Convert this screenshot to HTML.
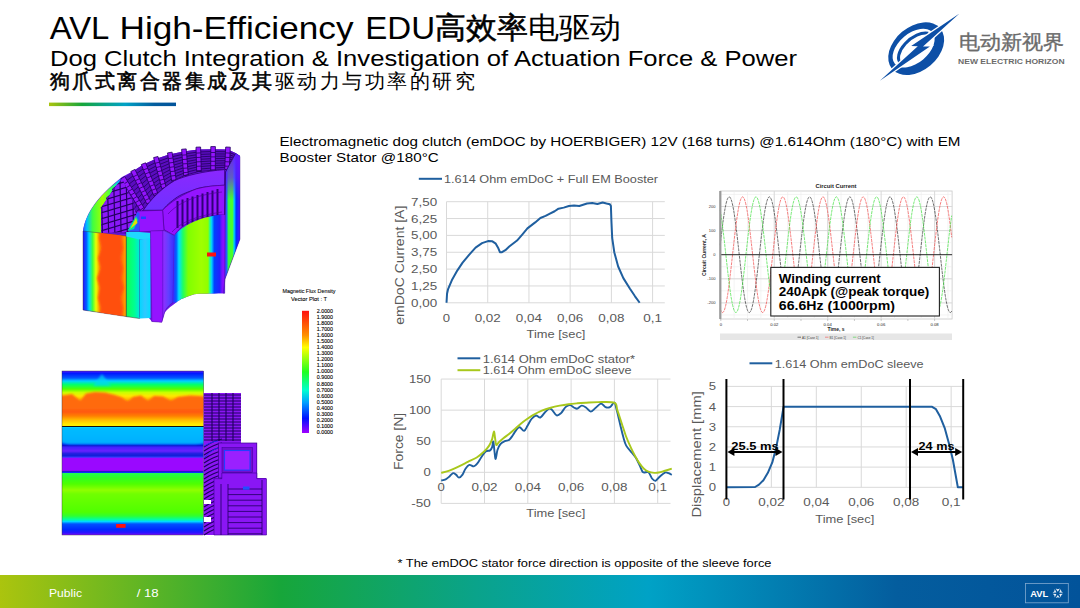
<!DOCTYPE html>
<html><head><meta charset="utf-8"><style>
html,body{margin:0;padding:0;background:#fff;}
body{width:1080px;height:608px;overflow:hidden;}
svg{display:block;font-family:"Liberation Sans", sans-serif;}
</style></head><body>
<svg width="1080" height="608" viewBox="0 0 1080 608">
<text x="49.7" y="38.9" font-size="31.6" fill="#000" text-anchor="start" font-weight="normal" textLength="59.6" lengthAdjust="spacingAndGlyphs" >AVL</text>
<text x="119.5" y="38.9" font-size="31.6" fill="#000" text-anchor="start" font-weight="normal" textLength="234" lengthAdjust="spacingAndGlyphs" >High-Efficiency</text>
<text x="365.3" y="38.9" font-size="31.6" fill="#000" text-anchor="start" font-weight="normal" textLength="69.9" lengthAdjust="spacingAndGlyphs" >EDU</text>
<text x="435" y="37.8" font-size="30" fill="#000" textLength="186" lengthAdjust="spacingAndGlyphs"><tspan stroke="#000" stroke-width="0.55">高效率</tspan>电驱动</text>
<text x="50" y="65.6" font-size="22.5" fill="#000" text-anchor="start" font-weight="normal" textLength="747" lengthAdjust="spacingAndGlyphs" >Dog Clutch Integration &amp; Investigation of Actuation Force &amp; Power</text>
<text x="49.5" y="88.3" font-size="20.2" fill="#000" textLength="425" lengthAdjust="spacing"><tspan stroke="#000" stroke-width="0.55">狗爪式离合器集成及其</tspan>驱动力与功率的研究</text>
<defs><linearGradient id="ul" x1="0" x2="1"><stop offset="0" stop-color="#a5c416"/><stop offset="0.5" stop-color="#0aa37f"/><stop offset="1" stop-color="#0a5aa8"/></linearGradient>
<linearGradient id="ft" x1="0" x2="1"><stop offset="0" stop-color="#abc40e"/><stop offset="0.26" stop-color="#17a63a"/><stop offset="0.44" stop-color="#0aa38a"/><stop offset="0.6" stop-color="#00a2c6"/><stop offset="0.83" stop-color="#045d9e"/><stop offset="1" stop-color="#02539a"/></linearGradient></defs>
<rect x="49" y="102.6" width="127" height="3.5" fill="url(#ft)"/>
<rect x="0" y="575" width="1080" height="33" fill="url(#ft)"/>
<text x="49" y="597.2" font-size="11.5" fill="#fff" text-anchor="start" font-weight="normal" textLength="33" lengthAdjust="spacingAndGlyphs" >Public</text>
<text x="136.7" y="597.2" font-size="11.5" fill="#fff" text-anchor="start" font-weight="normal" textLength="22" lengthAdjust="spacingAndGlyphs" >/ 18</text>
<rect x="1025.5" y="583.5" width="42.8" height="19.3" fill="none" stroke="#7fa9d0" stroke-width="0.8"/>
<text x="1030.2" y="597.2" font-size="8.6" fill="#fff" text-anchor="start" font-weight="bold" textLength="18" lengthAdjust="spacingAndGlyphs" >AVL</text>
<path d="M1059.19,592.50L1060.85,589.09L1061.26,591.30L1062.97,592.76Z M1057.80,591.70L1055.68,588.55L1057.80,589.30L1059.92,588.55Z M1056.41,592.50L1052.63,592.76L1054.34,591.30L1054.75,589.09Z M1056.41,594.10L1054.75,597.51L1054.34,595.30L1052.63,593.84Z M1057.80,594.90L1059.92,598.05L1057.80,597.30L1055.68,598.05Z M1059.19,594.10L1062.97,593.84L1061.26,595.30L1060.85,597.51Z" fill="#e8eef6"/>
<path d="M446.5,302.80H664.8 M446.5,285.95H664.8 M446.5,269.10H664.8 M446.5,252.25H664.8 M446.5,235.40H664.8 M446.5,218.55H664.8 M446.5,201.70H664.8 M446.50,201.70V302.8 M487.72,201.70V302.8 M528.94,201.70V302.8 M570.16,201.70V302.8 M611.38,201.70V302.8 M652.60,201.70V302.8" stroke="#d9d9d9" stroke-width="1" fill="none"/>
<text x="411.07" y="306.80" font-size="11.5" fill="#595959" font-weight="normal" textLength="26.13" lengthAdjust="spacingAndGlyphs">0,00</text>
<text x="411.07" y="289.95" font-size="11.5" fill="#595959" font-weight="normal" textLength="26.13" lengthAdjust="spacingAndGlyphs">1,25</text>
<text x="411.07" y="273.10" font-size="11.5" fill="#595959" font-weight="normal" textLength="26.13" lengthAdjust="spacingAndGlyphs">2,50</text>
<text x="411.07" y="256.25" font-size="11.5" fill="#595959" font-weight="normal" textLength="26.13" lengthAdjust="spacingAndGlyphs">3,75</text>
<text x="411.07" y="239.40" font-size="11.5" fill="#595959" font-weight="normal" textLength="26.13" lengthAdjust="spacingAndGlyphs">5,00</text>
<text x="411.07" y="222.55" font-size="11.5" fill="#595959" font-weight="normal" textLength="26.13" lengthAdjust="spacingAndGlyphs">6,25</text>
<text x="411.07" y="205.70" font-size="11.5" fill="#595959" font-weight="normal" textLength="26.13" lengthAdjust="spacingAndGlyphs">7,50</text>
<text x="442.84" y="322.00" font-size="11.5" fill="#595959" font-weight="normal" textLength="7.31" lengthAdjust="spacingAndGlyphs">0</text>
<text x="474.66" y="322.00" font-size="11.5" fill="#595959" font-weight="normal" textLength="26.13" lengthAdjust="spacingAndGlyphs">0,02</text>
<text x="515.88" y="322.00" font-size="11.5" fill="#595959" font-weight="normal" textLength="26.13" lengthAdjust="spacingAndGlyphs">0,04</text>
<text x="557.10" y="322.00" font-size="11.5" fill="#595959" font-weight="normal" textLength="26.13" lengthAdjust="spacingAndGlyphs">0,06</text>
<text x="598.32" y="322.00" font-size="11.5" fill="#595959" font-weight="normal" textLength="26.13" lengthAdjust="spacingAndGlyphs">0,08</text>
<text x="643.19" y="322.00" font-size="11.5" fill="#595959" font-weight="normal" textLength="18.81" lengthAdjust="spacingAndGlyphs">0,1</text>
<text x="526.54" y="338.30" font-size="11" fill="#595959" font-weight="normal" textLength="58.93" lengthAdjust="spacingAndGlyphs">Time [sec]</text>
<text x="344.50" y="265.20" font-size="12" fill="#595959" font-weight="normal" textLength="119.00" lengthAdjust="spacingAndGlyphs" transform="rotate(-90 404.0 265.2)">emDoC Current [A]</text>
<path d="M418.8,178.8H442" stroke="#1f5f9f" stroke-width="2"/>
<text x="444.00" y="183.00" font-size="11.3" fill="#595959" font-weight="normal" textLength="214.08" lengthAdjust="spacingAndGlyphs">1.614 Ohm emDoC + Full EM Booster</text>
<polyline points="446.52,302.78 447.04,293.71 448.08,289.04 452.22,279.45 457.41,270.37 462.60,262.60 469.08,254.82 475.56,247.56 482.04,243.15 488.00,241.08 492.41,241.34 495.78,243.67 498.37,248.34 499.93,252.22 502.00,252.22 505.37,250.15 509.26,246.52 517.04,240.56 522.23,234.59 527.41,228.37 535.19,222.41 540.38,218.00 545.56,215.93 549.45,213.85 554.64,211.26 558.52,208.67 563.71,207.63 568.90,206.07 574.08,205.56 579.27,206.07 583.16,204.78 587.04,203.48 592.23,202.96 597.42,204.00 602.60,202.44 606.49,203.48 609.86,204.26 610.90,206.07 611.42,221.11 612.19,237.96 614.27,252.22 618.16,266.48 623.34,278.15 629.82,288.52 635.01,296.30 639.68,302.78" stroke="#1f5f9f" stroke-width="2" fill="none" stroke-linejoin="round"/>
<path d="M441.2,503.38H670.5 M441.2,472.30H670.5 M441.2,441.22H670.5 M441.2,410.14H670.5 M441.2,379.06H670.5 M441.20,379.06V503.38 M484.50,379.06V503.38 M527.80,379.06V503.38 M571.10,379.06V503.38 M614.40,379.06V503.38 M657.70,379.06V503.38" stroke="#d9d9d9" stroke-width="1" fill="none"/>
<text x="411.32" y="507.38" font-size="11.5" fill="#595959" font-weight="normal" textLength="19.58" lengthAdjust="spacingAndGlyphs">-50</text>
<text x="423.59" y="476.30" font-size="11.5" fill="#595959" font-weight="normal" textLength="7.31" lengthAdjust="spacingAndGlyphs">0</text>
<text x="416.27" y="445.22" font-size="11.5" fill="#595959" font-weight="normal" textLength="14.63" lengthAdjust="spacingAndGlyphs">50</text>
<text x="408.96" y="414.14" font-size="11.5" fill="#595959" font-weight="normal" textLength="21.94" lengthAdjust="spacingAndGlyphs">100</text>
<text x="408.96" y="383.06" font-size="11.5" fill="#595959" font-weight="normal" textLength="21.94" lengthAdjust="spacingAndGlyphs">150</text>
<text x="437.54" y="491.00" font-size="11.5" fill="#595959" font-weight="normal" textLength="7.31" lengthAdjust="spacingAndGlyphs">0</text>
<text x="471.44" y="491.00" font-size="11.5" fill="#595959" font-weight="normal" textLength="26.13" lengthAdjust="spacingAndGlyphs">0,02</text>
<text x="514.74" y="491.00" font-size="11.5" fill="#595959" font-weight="normal" textLength="26.13" lengthAdjust="spacingAndGlyphs">0,04</text>
<text x="558.04" y="491.00" font-size="11.5" fill="#595959" font-weight="normal" textLength="26.13" lengthAdjust="spacingAndGlyphs">0,06</text>
<text x="601.34" y="491.00" font-size="11.5" fill="#595959" font-weight="normal" textLength="26.13" lengthAdjust="spacingAndGlyphs">0,08</text>
<text x="648.29" y="491.00" font-size="11.5" fill="#595959" font-weight="normal" textLength="18.81" lengthAdjust="spacingAndGlyphs">0,1</text>
<text x="526.34" y="516.80" font-size="11" fill="#595959" font-weight="normal" textLength="58.93" lengthAdjust="spacingAndGlyphs">Time [sec]</text>
<text x="374.70" y="441.40" font-size="12" fill="#595959" font-weight="normal" textLength="57.00" lengthAdjust="spacingAndGlyphs" transform="rotate(-90 403.2 441.4)">Force [N]</text>
<path d="M457.5,358.3H480.3" stroke="#1f5f9f" stroke-width="2"/>
<path d="M457.5,370.2H480.3" stroke="#a8c81c" stroke-width="2"/>
<text x="482.70" y="362.50" font-size="11.3" fill="#595959" font-weight="normal" textLength="152.45" lengthAdjust="spacingAndGlyphs">1.614 Ohm emDoC stator*</text>
<text x="482.70" y="374.40" font-size="11.3" fill="#595959" font-weight="normal" textLength="148.90" lengthAdjust="spacingAndGlyphs">1.614 Ohm emDoC sleeve</text>
<path d="M441.23,480.54C441.97,480.35 444.29,480.05 445.67,479.36C447.05,478.67 448.28,477.44 449.52,476.40C450.75,475.36 451.98,473.44 453.07,473.14C454.15,472.85 455.04,473.88 456.03,474.62C457.01,475.36 457.90,477.58 458.99,477.58C460.07,477.58 461.45,476.10 462.54,474.62C463.62,473.14 464.36,470.33 465.50,468.71C466.63,467.08 467.96,465.25 469.34,464.86C470.73,464.46 472.45,466.58 473.78,466.34C475.12,466.09 476.10,464.86 477.34,463.38C478.57,461.90 479.80,459.43 481.18,457.46C482.56,455.49 484.14,452.72 485.62,451.54C487.10,450.36 488.98,451.10 490.06,450.36C491.15,449.62 491.59,448.58 492.13,447.10C492.67,445.62 492.92,440.74 493.32,441.48C493.71,442.22 494.11,448.63 494.50,451.54C494.89,454.45 495.19,459.19 495.68,458.94C496.18,458.69 496.67,452.53 497.46,450.06C498.25,447.59 499.19,445.62 500.42,444.14C501.65,442.66 503.38,441.92 504.86,441.18C506.34,440.44 507.97,440.69 509.30,439.70C510.63,438.72 511.62,436.99 512.85,435.26C514.08,433.54 515.56,430.68 516.70,429.34C517.83,428.01 518.42,427.03 519.66,427.27C520.89,427.52 522.76,431.12 524.09,430.82C525.43,430.53 526.41,427.47 527.65,425.50C528.88,423.52 530.11,420.66 531.49,418.99C532.87,417.31 534.45,415.68 535.93,415.44C537.41,415.19 538.89,418.00 540.37,417.51C541.85,417.01 543.33,413.96 544.81,412.48C546.29,411.00 548.02,409.02 549.25,408.63C550.48,408.23 550.98,408.97 552.21,410.11C553.44,411.24 555.17,414.94 556.65,415.44C558.13,415.93 559.61,414.45 561.09,413.07C562.57,411.69 564.05,408.48 565.53,407.15C567.01,405.82 568.49,404.98 569.97,405.08C571.45,405.18 573.17,407.15 574.41,407.74C575.64,408.33 576.13,408.97 577.36,408.63C578.60,408.28 580.32,405.82 581.80,405.67C583.28,405.52 584.76,406.75 586.24,407.74C587.72,408.73 589.10,411.59 590.68,411.59C592.26,411.59 593.99,409.07 595.71,407.74C597.44,406.41 599.41,403.70 601.04,403.60C602.67,403.50 604.00,406.56 605.48,407.15C606.96,407.74 608.44,407.89 609.92,407.15C611.40,406.41 613.22,402.22 614.36,402.71C615.49,403.20 615.74,406.41 616.73,410.11C617.71,413.81 619.19,420.47 620.28,424.91C621.36,429.34 622.25,433.29 623.24,436.74C624.22,440.20 624.72,442.91 626.20,445.62C627.68,448.33 630.39,450.80 632.11,453.02C633.84,455.24 635.22,456.72 636.55,458.94C637.89,461.16 639.02,464.12 640.11,466.34C641.19,468.56 641.68,471.27 643.06,472.26C644.45,473.24 646.86,471.17 648.39,472.26C649.92,473.34 651.06,477.34 652.24,478.77C653.42,480.20 654.26,481.18 655.49,480.84C656.73,480.49 658.06,478.08 659.64,476.70C661.22,475.31 663.48,473.14 664.96,472.55C666.44,471.96 667.38,472.75 668.52,473.14C669.65,473.54 671.23,474.62 671.77,474.92" stroke="#1f5f9f" stroke-width="1.9" fill="none" stroke-linejoin="round"/>
<path d="M441.23,472.85C442.46,472.50 445.67,471.86 448.63,470.78C451.59,469.69 455.78,467.82 458.99,466.34C462.19,464.86 464.91,463.38 467.86,461.90C470.82,460.42 474.03,459.19 476.74,457.46C479.46,455.73 482.07,453.51 484.14,451.54C486.21,449.57 487.84,447.69 489.17,445.62C490.50,443.55 491.34,441.48 492.13,439.11C492.92,436.74 493.41,431.56 493.91,431.42C494.40,431.27 494.70,435.95 495.09,438.22C495.49,440.49 495.63,444.39 496.28,445.03C496.92,445.67 497.76,443.20 498.94,442.07C500.12,440.94 501.65,439.60 503.38,438.22C505.10,436.84 507.32,435.36 509.30,433.78C511.27,432.21 513.24,430.48 515.22,428.75C517.19,427.03 519.16,425.05 521.13,423.43C523.11,421.80 525.08,420.37 527.05,418.99C529.03,417.61 530.51,416.52 532.97,415.14C535.44,413.76 538.89,411.93 541.85,410.70C544.81,409.47 547.77,408.58 550.73,407.74C553.69,406.90 556.65,406.26 559.61,405.67C562.57,405.08 565.53,404.58 568.49,404.19C571.45,403.79 574.41,403.55 577.36,403.30C580.32,403.05 582.79,402.91 586.24,402.71C589.70,402.51 593.39,402.12 598.08,402.12C602.77,402.12 611.15,401.38 614.36,402.71C617.56,404.04 616.08,406.66 617.32,410.11C618.55,413.56 620.28,418.99 621.76,423.43C623.24,427.86 624.72,432.80 626.20,436.74C627.68,440.69 629.16,443.90 630.63,447.10C632.11,450.31 633.59,453.27 635.07,455.98C636.55,458.69 638.03,461.26 639.51,463.38C640.99,465.50 642.47,467.32 643.95,468.71C645.43,470.09 646.67,470.97 648.39,471.66C650.12,472.36 652.58,472.70 654.31,472.85C656.04,473.00 656.97,472.90 658.75,472.55C660.53,472.21 662.79,471.42 664.96,470.78C667.13,470.14 670.64,469.05 671.77,468.71" stroke="#a8c81c" stroke-width="1.9" fill="none" stroke-linejoin="round"/>
<path d="M726.4,487.30H963.2 M726.4,467.12H963.2 M726.4,446.94H963.2 M726.4,426.76H963.2 M726.4,406.58H963.2 M726.4,386.40H963.2 M726.40,386.40V487.30 M771.35,386.40V487.30 M816.30,386.40V487.30 M861.25,386.40V487.30 M906.20,386.40V487.30 M951.15,386.40V487.30" stroke="#d9d9d9" stroke-width="1" fill="none"/>
<text x="708.69" y="491.30" font-size="11.5" fill="#595959" font-weight="normal" textLength="7.31" lengthAdjust="spacingAndGlyphs">0</text>
<text x="708.69" y="471.12" font-size="11.5" fill="#595959" font-weight="normal" textLength="7.31" lengthAdjust="spacingAndGlyphs">1</text>
<text x="708.69" y="450.94" font-size="11.5" fill="#595959" font-weight="normal" textLength="7.31" lengthAdjust="spacingAndGlyphs">2</text>
<text x="708.69" y="430.76" font-size="11.5" fill="#595959" font-weight="normal" textLength="7.31" lengthAdjust="spacingAndGlyphs">3</text>
<text x="708.69" y="410.58" font-size="11.5" fill="#595959" font-weight="normal" textLength="7.31" lengthAdjust="spacingAndGlyphs">4</text>
<text x="708.69" y="390.40" font-size="11.5" fill="#595959" font-weight="normal" textLength="7.31" lengthAdjust="spacingAndGlyphs">5</text>
<text x="722.74" y="506.40" font-size="11.5" fill="#595959" font-weight="normal" textLength="7.31" lengthAdjust="spacingAndGlyphs">0</text>
<text x="758.29" y="506.40" font-size="11.5" fill="#595959" font-weight="normal" textLength="26.13" lengthAdjust="spacingAndGlyphs">0,02</text>
<text x="803.24" y="506.40" font-size="11.5" fill="#595959" font-weight="normal" textLength="26.13" lengthAdjust="spacingAndGlyphs">0,04</text>
<text x="848.19" y="506.40" font-size="11.5" fill="#595959" font-weight="normal" textLength="26.13" lengthAdjust="spacingAndGlyphs">0,06</text>
<text x="893.14" y="506.40" font-size="11.5" fill="#595959" font-weight="normal" textLength="26.13" lengthAdjust="spacingAndGlyphs">0,08</text>
<text x="941.74" y="506.40" font-size="11.5" fill="#595959" font-weight="normal" textLength="18.81" lengthAdjust="spacingAndGlyphs">0,1</text>
<text x="815.34" y="523.30" font-size="11" fill="#595959" font-weight="normal" textLength="58.93" lengthAdjust="spacingAndGlyphs">Time [sec]</text>
<text x="638.25" y="454.30" font-size="12" fill="#595959" font-weight="normal" textLength="126.50" lengthAdjust="spacingAndGlyphs" transform="rotate(-90 701.5 454.3)">Displacement [mm]</text>
<path d="M749.5,363.3H772.3" stroke="#1f5f9f" stroke-width="2"/>
<text x="774.70" y="367.50" font-size="11.3" fill="#595959" font-weight="normal" textLength="148.90" lengthAdjust="spacingAndGlyphs">1.614 Ohm emDoC sleeve</text>
<polyline points="726.43,487.32 755.14,487.02 758.99,484.66 763.43,480.22 767.86,472.82 772.30,462.46 776.15,447.66 779.70,429.91 783.55,406.82 932.11,406.82 935.96,409.19 940.11,416.59 944.84,428.43 949.28,444.70 952.83,459.50 955.49,474.30 957.86,487.32 963.19,487.32" stroke="#1f5f9f" stroke-width="2" fill="none" stroke-linejoin="round"/>
<path d="M726.4,379V499.5" stroke="#000" stroke-width="2"/>
<path d="M783.5,379V499.5" stroke="#000" stroke-width="2"/>
<path d="M910.0,379V499.5" stroke="#000" stroke-width="2"/>
<path d="M963.2,379V499.5" stroke="#000" stroke-width="2"/>
<path d="M732.4,452.1H777.5" stroke="#000" stroke-width="2"/>
<path d="M727.4,452.1L734.4,448.1V456.1Z M782.5,452.1L775.5,448.1V456.1Z" fill="#000"/>
<path d="M916.0,452.1H957.2" stroke="#000" stroke-width="2"/>
<path d="M911.0,452.1L918.0,448.1V456.1Z M962.2,452.1L955.2,448.1V456.1Z" fill="#000"/>
<text x="731.32" y="449.50" font-size="11.5" fill="#000" font-weight="bold" textLength="47.36" lengthAdjust="spacingAndGlyphs">25.5 ms</text>
<text x="918.57" y="449.50" font-size="11.5" fill="#000" font-weight="bold" textLength="35.86" lengthAdjust="spacingAndGlyphs">24 ms</text>
<text x="815.50" y="188.30" font-size="6" fill="#222" font-weight="bold" textLength="41.00" lengthAdjust="spacingAndGlyphs">Circuit Current</text>
<rect x="720.2" y="191.0" width="231.90" height="128.00" fill="#fff" stroke="#c8c8c8" stroke-width="0.8"/>
<path d="M720.2,314.95H952.1 M720.2,302.90H952.1 M720.2,290.85H952.1 M720.2,278.80H952.1 M720.2,266.75H952.1 M720.2,254.70H952.1 M720.2,242.65H952.1 M720.2,230.60H952.1 M720.2,218.55H952.1 M720.2,206.50H952.1 M720.2,194.45H952.1 M720.80,191.0V319.0 M734.16,191.0V319.0 M747.52,191.0V319.0 M760.89,191.0V319.0 M774.25,191.0V319.0 M787.61,191.0V319.0 M800.97,191.0V319.0 M814.34,191.0V319.0 M827.70,191.0V319.0 M841.06,191.0V319.0 M854.42,191.0V319.0 M867.79,191.0V319.0 M881.15,191.0V319.0 M894.51,191.0V319.0 M907.88,191.0V319.0 M921.24,191.0V319.0 M934.60,191.0V319.0 M947.96,191.0V319.0" stroke="#ececec" stroke-width="0.6" fill="none"/>
<path d="M720.2,302.90H952.1 M720.2,278.80H952.1 M720.2,230.60H952.1 M720.2,206.50H952.1 M774.25,191.0V319.0 M827.70,191.0V319.0 M881.15,191.0V319.0 M934.60,191.0V319.0" stroke="#d0d0d0" stroke-width="0.7" fill="none"/>
<path d="M720.20,245.25L720.70,240.82L721.20,236.48L721.70,232.25L722.20,228.16L722.70,224.23L723.20,220.48L723.70,216.95L724.20,213.64L724.70,210.59L725.20,207.80L725.70,205.30L726.20,203.10L726.70,201.22L727.20,199.66L727.70,198.44L728.20,197.57L728.70,197.04L729.20,196.86L729.70,197.04L730.20,197.57L730.70,198.44L731.20,199.66L731.70,201.22L732.20,203.10L732.70,205.30L733.20,207.80L733.70,210.59L734.20,213.64L734.70,216.95L735.20,220.48L735.70,224.23L736.20,228.16L736.70,232.25L737.20,236.48L737.70,240.82L738.20,245.25L738.70,249.73L739.20,254.25L739.70,258.76L740.20,263.26L740.70,267.70L741.20,272.06L741.70,276.31L742.20,280.43L742.70,284.40L743.20,288.18L743.70,291.76L744.20,295.12L744.70,298.22L745.20,301.06L745.70,303.62L746.20,305.88L746.70,307.83L747.20,309.45L747.70,310.74L748.20,311.69L748.70,312.29L749.20,312.53L749.70,312.43L750.20,311.97L750.70,311.16L751.20,310.01L751.70,308.52L752.20,306.70L752.70,304.56L753.20,302.12L753.70,299.39L754.20,296.39L754.70,293.13L755.20,289.64L755.70,285.94L756.20,282.04L756.70,277.98L757.20,273.77L757.70,269.45L758.20,265.04L758.70,260.57L759.20,256.06L759.70,251.54L760.20,247.04L760.70,242.59L761.20,238.21L761.70,233.93L762.20,229.78L762.70,225.78L763.20,221.96L763.70,218.34L764.20,214.93L764.70,211.78L765.20,208.88L765.70,206.27L766.20,203.94L766.70,201.93L767.20,200.25L767.70,198.89L768.20,197.87L768.70,197.21L769.20,196.89L769.70,196.92L770.20,197.31L770.70,198.05L771.20,199.13L771.70,200.56L772.20,202.31L772.70,204.38L773.20,206.77L773.70,209.44L774.20,212.39L774.70,215.60L775.20,219.04L775.70,222.71L776.20,226.57L776.70,230.60L777.20,234.78L777.70,239.08L778.20,243.47L778.70,247.94L779.20,252.44L779.70,256.96L780.20,261.46L780.70,265.93L781.20,270.32L781.70,274.62L782.20,278.80L782.70,282.83L783.20,286.69L783.70,290.36L784.20,293.80L784.70,297.01L785.20,299.96L785.70,302.63L786.20,305.02L786.70,307.09L787.20,308.84L787.70,310.27L788.20,311.35L788.70,312.09L789.20,312.48L789.70,312.51L790.20,312.19L790.70,311.53L791.20,310.51L791.70,309.15L792.20,307.47L792.70,305.46L793.20,303.13L793.70,300.52L794.20,297.62L794.70,294.47L795.20,291.06L795.70,287.44L796.20,283.62L796.70,279.62L797.20,275.47L797.70,271.19L798.20,266.81L798.70,262.36L799.20,257.86L799.70,253.34L800.20,248.83L800.70,244.36L801.20,239.95L801.70,235.63L802.20,231.42L802.70,227.36L803.20,223.46L803.70,219.76L804.20,216.27L804.70,213.01L805.20,210.01L805.70,207.28L806.20,204.84L806.70,202.70L807.20,200.88L807.70,199.39L808.20,198.24L808.70,197.43L809.20,196.97L809.70,196.87L810.20,197.11L810.70,197.71L811.20,198.66L811.70,199.95L812.20,201.57L812.70,203.52L813.20,205.78L813.70,208.34L814.20,211.18L814.70,214.28L815.20,217.64L815.70,221.22L816.20,225.00L816.70,228.97L817.20,233.09L817.70,237.34L818.20,241.70L818.70,246.14L819.20,250.64L819.70,255.15L820.20,259.67L820.70,264.15L821.20,268.58L821.70,272.92L822.20,277.15L822.70,281.24L823.20,285.17L823.70,288.92L824.20,292.45L824.70,295.76L825.20,298.81L825.70,301.60L826.20,304.10L826.70,306.30L827.20,308.18L827.70,309.74L828.20,310.96L828.70,311.83L829.20,312.36L829.70,312.54L830.20,312.36L830.70,311.83L831.20,310.96L831.70,309.74L832.20,308.18L832.70,306.30L833.20,304.10L833.70,301.60L834.20,298.81L834.70,295.76L835.20,292.45L835.70,288.92L836.20,285.17L836.70,281.24L837.20,277.15L837.70,272.92L838.20,268.58L838.70,264.15L839.20,259.67L839.70,255.15L840.20,250.64L840.70,246.14L841.20,241.70L841.70,237.34L842.20,233.09L842.70,228.97L843.20,225.00L843.70,221.22L844.20,217.64L844.70,214.28L845.20,211.18L845.70,208.34L846.20,205.78L846.70,203.52L847.20,201.57L847.70,199.95L848.20,198.66L848.70,197.71L849.20,197.11L849.70,196.87L850.20,196.97L850.70,197.43L851.20,198.24L851.70,199.39L852.20,200.88L852.70,202.70L853.20,204.84L853.70,207.28L854.20,210.01L854.70,213.01L855.20,216.27L855.70,219.76L856.20,223.46L856.70,227.36L857.20,231.42L857.70,235.63L858.20,239.95L858.70,244.36L859.20,248.83L859.70,253.34L860.20,257.86L860.70,262.36L861.20,266.81L861.70,271.19L862.20,275.47L862.70,279.62L863.20,283.62L863.70,287.44L864.20,291.06L864.70,294.47L865.20,297.62L865.70,300.52L866.20,303.13L866.70,305.46L867.20,307.47L867.70,309.15L868.20,310.51L868.70,311.53L869.20,312.19L869.70,312.51L870.20,312.48L870.70,312.09L871.20,311.35L871.70,310.27L872.20,308.84L872.70,307.09L873.20,305.02L873.70,302.63L874.20,299.96L874.70,297.01L875.20,293.80L875.70,290.36L876.20,286.69L876.70,282.83L877.20,278.80L877.70,274.62L878.20,270.32L878.70,265.93L879.20,261.46L879.70,256.96L880.20,252.44L880.70,247.94L881.20,243.47L881.70,239.08L882.20,234.78L882.70,230.60L883.20,226.57L883.70,222.71L884.20,219.04L884.70,215.60L885.20,212.39L885.70,209.44L886.20,206.77L886.70,204.38L887.20,202.31L887.70,200.56L888.20,199.13L888.70,198.05L889.20,197.31L889.70,196.92L890.20,196.89L890.70,197.21L891.20,197.87L891.70,198.89L892.20,200.25L892.70,201.93L893.20,203.94L893.70,206.27L894.20,208.88L894.70,211.78L895.20,214.93L895.70,218.34L896.20,221.96L896.70,225.78L897.20,229.78L897.70,233.93L898.20,238.21L898.70,242.59L899.20,247.04L899.70,251.54L900.20,256.06L900.70,260.57L901.20,265.04L901.70,269.45L902.20,273.77L902.70,277.98L903.20,282.04L903.70,285.94L904.20,289.64L904.70,293.13L905.20,296.39L905.70,299.39L906.20,302.12L906.70,304.56L907.20,306.70L907.70,308.52L908.20,310.01L908.70,311.16L909.20,311.97L909.70,312.43L910.20,312.53L910.70,312.29L911.20,311.69L911.70,310.74L912.20,309.45L912.70,307.83L913.20,305.88L913.70,303.62L914.20,301.06L914.70,298.22L915.20,295.12L915.70,291.76L916.20,288.18L916.70,284.40L917.20,280.43L917.70,276.31L918.20,272.06L918.70,267.70L919.20,263.26L919.70,258.76L920.20,254.25L920.70,249.73L921.20,245.25L921.70,240.82L922.20,236.48L922.70,232.25L923.20,228.16L923.70,224.23L924.20,220.48L924.70,216.95L925.20,213.64L925.70,210.59L926.20,207.80L926.70,205.30L927.20,203.10L927.70,201.22L928.20,199.66L928.70,198.44L929.20,197.57L929.70,197.04L930.20,196.86L930.70,197.04L931.20,197.57L931.70,198.44L932.20,199.66L932.70,201.22L933.20,203.10L933.70,205.30L934.20,207.80L934.70,210.59L935.20,213.64L935.70,216.95L936.20,220.48L936.70,224.23L937.20,228.16L937.70,232.25L938.20,236.48L938.70,240.82L939.20,245.25L939.70,249.73L940.20,254.25L940.70,258.76L941.20,263.26L941.70,267.70L942.20,272.06L942.70,276.31L943.20,280.43L943.70,284.40L944.20,288.18L944.70,291.76L945.20,295.12L945.70,298.22L946.20,301.06L946.70,303.62L947.20,305.88L947.70,307.83L948.20,309.45L948.70,310.74L949.20,311.69L949.70,312.29L950.20,312.53L950.70,312.43L951.20,311.97L951.70,311.16" stroke="#333333" stroke-width="0.7" fill="none" stroke-dasharray="3,0.8"/>
<path d="M720.20,308.84L720.70,310.27L721.20,311.35L721.70,312.09L722.20,312.48L722.70,312.51L723.20,312.19L723.70,311.53L724.20,310.51L724.70,309.15L725.20,307.47L725.70,305.46L726.20,303.13L726.70,300.52L727.20,297.62L727.70,294.47L728.20,291.06L728.70,287.44L729.20,283.62L729.70,279.62L730.20,275.47L730.70,271.19L731.20,266.81L731.70,262.36L732.20,257.86L732.70,253.34L733.20,248.83L733.70,244.36L734.20,239.95L734.70,235.63L735.20,231.42L735.70,227.36L736.20,223.46L736.70,219.76L737.20,216.27L737.70,213.01L738.20,210.01L738.70,207.28L739.20,204.84L739.70,202.70L740.20,200.88L740.70,199.39L741.20,198.24L741.70,197.43L742.20,196.97L742.70,196.87L743.20,197.11L743.70,197.71L744.20,198.66L744.70,199.95L745.20,201.57L745.70,203.52L746.20,205.78L746.70,208.34L747.20,211.18L747.70,214.28L748.20,217.64L748.70,221.22L749.20,225.00L749.70,228.97L750.20,233.09L750.70,237.34L751.20,241.70L751.70,246.14L752.20,250.64L752.70,255.15L753.20,259.67L753.70,264.15L754.20,268.58L754.70,272.92L755.20,277.15L755.70,281.24L756.20,285.17L756.70,288.92L757.20,292.45L757.70,295.76L758.20,298.81L758.70,301.60L759.20,304.10L759.70,306.30L760.20,308.18L760.70,309.74L761.20,310.96L761.70,311.83L762.20,312.36L762.70,312.54L763.20,312.36L763.70,311.83L764.20,310.96L764.70,309.74L765.20,308.18L765.70,306.30L766.20,304.10L766.70,301.60L767.20,298.81L767.70,295.76L768.20,292.45L768.70,288.92L769.20,285.17L769.70,281.24L770.20,277.15L770.70,272.92L771.20,268.58L771.70,264.15L772.20,259.67L772.70,255.15L773.20,250.64L773.70,246.14L774.20,241.70L774.70,237.34L775.20,233.09L775.70,228.97L776.20,225.00L776.70,221.22L777.20,217.64L777.70,214.28L778.20,211.18L778.70,208.34L779.20,205.78L779.70,203.52L780.20,201.57L780.70,199.95L781.20,198.66L781.70,197.71L782.20,197.11L782.70,196.87L783.20,196.97L783.70,197.43L784.20,198.24L784.70,199.39L785.20,200.88L785.70,202.70L786.20,204.84L786.70,207.28L787.20,210.01L787.70,213.01L788.20,216.27L788.70,219.76L789.20,223.46L789.70,227.36L790.20,231.42L790.70,235.63L791.20,239.95L791.70,244.36L792.20,248.83L792.70,253.34L793.20,257.86L793.70,262.36L794.20,266.81L794.70,271.19L795.20,275.47L795.70,279.62L796.20,283.62L796.70,287.44L797.20,291.06L797.70,294.47L798.20,297.62L798.70,300.52L799.20,303.13L799.70,305.46L800.20,307.47L800.70,309.15L801.20,310.51L801.70,311.53L802.20,312.19L802.70,312.51L803.20,312.48L803.70,312.09L804.20,311.35L804.70,310.27L805.20,308.84L805.70,307.09L806.20,305.02L806.70,302.63L807.20,299.96L807.70,297.01L808.20,293.80L808.70,290.36L809.20,286.69L809.70,282.83L810.20,278.80L810.70,274.62L811.20,270.32L811.70,265.93L812.20,261.46L812.70,256.96L813.20,252.44L813.70,247.94L814.20,243.47L814.70,239.08L815.20,234.78L815.70,230.60L816.20,226.57L816.70,222.71L817.20,219.04L817.70,215.60L818.20,212.39L818.70,209.44L819.20,206.77L819.70,204.38L820.20,202.31L820.70,200.56L821.20,199.13L821.70,198.05L822.20,197.31L822.70,196.92L823.20,196.89L823.70,197.21L824.20,197.87L824.70,198.89L825.20,200.25L825.70,201.93L826.20,203.94L826.70,206.27L827.20,208.88L827.70,211.78L828.20,214.93L828.70,218.34L829.20,221.96L829.70,225.78L830.20,229.78L830.70,233.93L831.20,238.21L831.70,242.59L832.20,247.04L832.70,251.54L833.20,256.06L833.70,260.57L834.20,265.04L834.70,269.45L835.20,273.77L835.70,277.98L836.20,282.04L836.70,285.94L837.20,289.64L837.70,293.13L838.20,296.39L838.70,299.39L839.20,302.12L839.70,304.56L840.20,306.70L840.70,308.52L841.20,310.01L841.70,311.16L842.20,311.97L842.70,312.43L843.20,312.53L843.70,312.29L844.20,311.69L844.70,310.74L845.20,309.45L845.70,307.83L846.20,305.88L846.70,303.62L847.20,301.06L847.70,298.22L848.20,295.12L848.70,291.76L849.20,288.18L849.70,284.40L850.20,280.43L850.70,276.31L851.20,272.06L851.70,267.70L852.20,263.26L852.70,258.76L853.20,254.25L853.70,249.73L854.20,245.25L854.70,240.82L855.20,236.48L855.70,232.25L856.20,228.16L856.70,224.23L857.20,220.48L857.70,216.95L858.20,213.64L858.70,210.59L859.20,207.80L859.70,205.30L860.20,203.10L860.70,201.22L861.20,199.66L861.70,198.44L862.20,197.57L862.70,197.04L863.20,196.86L863.70,197.04L864.20,197.57L864.70,198.44L865.20,199.66L865.70,201.22L866.20,203.10L866.70,205.30L867.20,207.80L867.70,210.59L868.20,213.64L868.70,216.95L869.20,220.48L869.70,224.23L870.20,228.16L870.70,232.25L871.20,236.48L871.70,240.82L872.20,245.25L872.70,249.73L873.20,254.25L873.70,258.76L874.20,263.26L874.70,267.70L875.20,272.06L875.70,276.31L876.20,280.43L876.70,284.40L877.20,288.18L877.70,291.76L878.20,295.12L878.70,298.22L879.20,301.06L879.70,303.62L880.20,305.88L880.70,307.83L881.20,309.45L881.70,310.74L882.20,311.69L882.70,312.29L883.20,312.53L883.70,312.43L884.20,311.97L884.70,311.16L885.20,310.01L885.70,308.52L886.20,306.70L886.70,304.56L887.20,302.12L887.70,299.39L888.20,296.39L888.70,293.13L889.20,289.64L889.70,285.94L890.20,282.04L890.70,277.98L891.20,273.77L891.70,269.45L892.20,265.04L892.70,260.57L893.20,256.06L893.70,251.54L894.20,247.04L894.70,242.59L895.20,238.21L895.70,233.93L896.20,229.78L896.70,225.78L897.20,221.96L897.70,218.34L898.20,214.93L898.70,211.78L899.20,208.88L899.70,206.27L900.20,203.94L900.70,201.93L901.20,200.25L901.70,198.89L902.20,197.87L902.70,197.21L903.20,196.89L903.70,196.92L904.20,197.31L904.70,198.05L905.20,199.13L905.70,200.56L906.20,202.31L906.70,204.38L907.20,206.77L907.70,209.44L908.20,212.39L908.70,215.60L909.20,219.04L909.70,222.71L910.20,226.57L910.70,230.60L911.20,234.78L911.70,239.08L912.20,243.47L912.70,247.94L913.20,252.44L913.70,256.96L914.20,261.46L914.70,265.93L915.20,270.32L915.70,274.62L916.20,278.80L916.70,282.83L917.20,286.69L917.70,290.36L918.20,293.80L918.70,297.01L919.20,299.96L919.70,302.63L920.20,305.02L920.70,307.09L921.20,308.84L921.70,310.27L922.20,311.35L922.70,312.09L923.20,312.48L923.70,312.51L924.20,312.19L924.70,311.53L925.20,310.51L925.70,309.15L926.20,307.47L926.70,305.46L927.20,303.13L927.70,300.52L928.20,297.62L928.70,294.47L929.20,291.06L929.70,287.44L930.20,283.62L930.70,279.62L931.20,275.47L931.70,271.19L932.20,266.81L932.70,262.36L933.20,257.86L933.70,253.34L934.20,248.83L934.70,244.36L935.20,239.95L935.70,235.63L936.20,231.42L936.70,227.36L937.20,223.46L937.70,219.76L938.20,216.27L938.70,213.01L939.20,210.01L939.70,207.28L940.20,204.84L940.70,202.70L941.20,200.88L941.70,199.39L942.20,198.24L942.70,197.43L943.20,196.97L943.70,196.87L944.20,197.11L944.70,197.71L945.20,198.66L945.70,199.95L946.20,201.57L946.70,203.52L947.20,205.78L947.70,208.34L948.20,211.18L948.70,214.28L949.20,217.64L949.70,221.22L950.20,225.00L950.70,228.97L951.20,233.09L951.70,237.34" stroke="#f04848" stroke-width="0.7" fill="none" stroke-dasharray="3,0.8"/>
<path d="M720.20,210.01L720.70,213.01L721.20,216.27L721.70,219.76L722.20,223.46L722.70,227.36L723.20,231.42L723.70,235.63L724.20,239.95L724.70,244.36L725.20,248.83L725.70,253.34L726.20,257.86L726.70,262.36L727.20,266.81L727.70,271.19L728.20,275.47L728.70,279.62L729.20,283.62L729.70,287.44L730.20,291.06L730.70,294.47L731.20,297.62L731.70,300.52L732.20,303.13L732.70,305.46L733.20,307.47L733.70,309.15L734.20,310.51L734.70,311.53L735.20,312.19L735.70,312.51L736.20,312.48L736.70,312.09L737.20,311.35L737.70,310.27L738.20,308.84L738.70,307.09L739.20,305.02L739.70,302.63L740.20,299.96L740.70,297.01L741.20,293.80L741.70,290.36L742.20,286.69L742.70,282.83L743.20,278.80L743.70,274.62L744.20,270.32L744.70,265.93L745.20,261.46L745.70,256.96L746.20,252.44L746.70,247.94L747.20,243.47L747.70,239.08L748.20,234.78L748.70,230.60L749.20,226.57L749.70,222.71L750.20,219.04L750.70,215.60L751.20,212.39L751.70,209.44L752.20,206.77L752.70,204.38L753.20,202.31L753.70,200.56L754.20,199.13L754.70,198.05L755.20,197.31L755.70,196.92L756.20,196.89L756.70,197.21L757.20,197.87L757.70,198.89L758.20,200.25L758.70,201.93L759.20,203.94L759.70,206.27L760.20,208.88L760.70,211.78L761.20,214.93L761.70,218.34L762.20,221.96L762.70,225.78L763.20,229.78L763.70,233.93L764.20,238.21L764.70,242.59L765.20,247.04L765.70,251.54L766.20,256.06L766.70,260.57L767.20,265.04L767.70,269.45L768.20,273.77L768.70,277.98L769.20,282.04L769.70,285.94L770.20,289.64L770.70,293.13L771.20,296.39L771.70,299.39L772.20,302.12L772.70,304.56L773.20,306.70L773.70,308.52L774.20,310.01L774.70,311.16L775.20,311.97L775.70,312.43L776.20,312.53L776.70,312.29L777.20,311.69L777.70,310.74L778.20,309.45L778.70,307.83L779.20,305.88L779.70,303.62L780.20,301.06L780.70,298.22L781.20,295.12L781.70,291.76L782.20,288.18L782.70,284.40L783.20,280.43L783.70,276.31L784.20,272.06L784.70,267.70L785.20,263.26L785.70,258.76L786.20,254.25L786.70,249.73L787.20,245.25L787.70,240.82L788.20,236.48L788.70,232.25L789.20,228.16L789.70,224.23L790.20,220.48L790.70,216.95L791.20,213.64L791.70,210.59L792.20,207.80L792.70,205.30L793.20,203.10L793.70,201.22L794.20,199.66L794.70,198.44L795.20,197.57L795.70,197.04L796.20,196.86L796.70,197.04L797.20,197.57L797.70,198.44L798.20,199.66L798.70,201.22L799.20,203.10L799.70,205.30L800.20,207.80L800.70,210.59L801.20,213.64L801.70,216.95L802.20,220.48L802.70,224.23L803.20,228.16L803.70,232.25L804.20,236.48L804.70,240.82L805.20,245.25L805.70,249.73L806.20,254.25L806.70,258.76L807.20,263.26L807.70,267.70L808.20,272.06L808.70,276.31L809.20,280.43L809.70,284.40L810.20,288.18L810.70,291.76L811.20,295.12L811.70,298.22L812.20,301.06L812.70,303.62L813.20,305.88L813.70,307.83L814.20,309.45L814.70,310.74L815.20,311.69L815.70,312.29L816.20,312.53L816.70,312.43L817.20,311.97L817.70,311.16L818.20,310.01L818.70,308.52L819.20,306.70L819.70,304.56L820.20,302.12L820.70,299.39L821.20,296.39L821.70,293.13L822.20,289.64L822.70,285.94L823.20,282.04L823.70,277.98L824.20,273.77L824.70,269.45L825.20,265.04L825.70,260.57L826.20,256.06L826.70,251.54L827.20,247.04L827.70,242.59L828.20,238.21L828.70,233.93L829.20,229.78L829.70,225.78L830.20,221.96L830.70,218.34L831.20,214.93L831.70,211.78L832.20,208.88L832.70,206.27L833.20,203.94L833.70,201.93L834.20,200.25L834.70,198.89L835.20,197.87L835.70,197.21L836.20,196.89L836.70,196.92L837.20,197.31L837.70,198.05L838.20,199.13L838.70,200.56L839.20,202.31L839.70,204.38L840.20,206.77L840.70,209.44L841.20,212.39L841.70,215.60L842.20,219.04L842.70,222.71L843.20,226.57L843.70,230.60L844.20,234.78L844.70,239.08L845.20,243.47L845.70,247.94L846.20,252.44L846.70,256.96L847.20,261.46L847.70,265.93L848.20,270.32L848.70,274.62L849.20,278.80L849.70,282.83L850.20,286.69L850.70,290.36L851.20,293.80L851.70,297.01L852.20,299.96L852.70,302.63L853.20,305.02L853.70,307.09L854.20,308.84L854.70,310.27L855.20,311.35L855.70,312.09L856.20,312.48L856.70,312.51L857.20,312.19L857.70,311.53L858.20,310.51L858.70,309.15L859.20,307.47L859.70,305.46L860.20,303.13L860.70,300.52L861.20,297.62L861.70,294.47L862.20,291.06L862.70,287.44L863.20,283.62L863.70,279.62L864.20,275.47L864.70,271.19L865.20,266.81L865.70,262.36L866.20,257.86L866.70,253.34L867.20,248.83L867.70,244.36L868.20,239.95L868.70,235.63L869.20,231.42L869.70,227.36L870.20,223.46L870.70,219.76L871.20,216.27L871.70,213.01L872.20,210.01L872.70,207.28L873.20,204.84L873.70,202.70L874.20,200.88L874.70,199.39L875.20,198.24L875.70,197.43L876.20,196.97L876.70,196.87L877.20,197.11L877.70,197.71L878.20,198.66L878.70,199.95L879.20,201.57L879.70,203.52L880.20,205.78L880.70,208.34L881.20,211.18L881.70,214.28L882.20,217.64L882.70,221.22L883.20,225.00L883.70,228.97L884.20,233.09L884.70,237.34L885.20,241.70L885.70,246.14L886.20,250.64L886.70,255.15L887.20,259.67L887.70,264.15L888.20,268.58L888.70,272.92L889.20,277.15L889.70,281.24L890.20,285.17L890.70,288.92L891.20,292.45L891.70,295.76L892.20,298.81L892.70,301.60L893.20,304.10L893.70,306.30L894.20,308.18L894.70,309.74L895.20,310.96L895.70,311.83L896.20,312.36L896.70,312.54L897.20,312.36L897.70,311.83L898.20,310.96L898.70,309.74L899.20,308.18L899.70,306.30L900.20,304.10L900.70,301.60L901.20,298.81L901.70,295.76L902.20,292.45L902.70,288.92L903.20,285.17L903.70,281.24L904.20,277.15L904.70,272.92L905.20,268.58L905.70,264.15L906.20,259.67L906.70,255.15L907.20,250.64L907.70,246.14L908.20,241.70L908.70,237.34L909.20,233.09L909.70,228.97L910.20,225.00L910.70,221.22L911.20,217.64L911.70,214.28L912.20,211.18L912.70,208.34L913.20,205.78L913.70,203.52L914.20,201.57L914.70,199.95L915.20,198.66L915.70,197.71L916.20,197.11L916.70,196.87L917.20,196.97L917.70,197.43L918.20,198.24L918.70,199.39L919.20,200.88L919.70,202.70L920.20,204.84L920.70,207.28L921.20,210.01L921.70,213.01L922.20,216.27L922.70,219.76L923.20,223.46L923.70,227.36L924.20,231.42L924.70,235.63L925.20,239.95L925.70,244.36L926.20,248.83L926.70,253.34L927.20,257.86L927.70,262.36L928.20,266.81L928.70,271.19L929.20,275.47L929.70,279.62L930.20,283.62L930.70,287.44L931.20,291.06L931.70,294.47L932.20,297.62L932.70,300.52L933.20,303.13L933.70,305.46L934.20,307.47L934.70,309.15L935.20,310.51L935.70,311.53L936.20,312.19L936.70,312.51L937.20,312.48L937.70,312.09L938.20,311.35L938.70,310.27L939.20,308.84L939.70,307.09L940.20,305.02L940.70,302.63L941.20,299.96L941.70,297.01L942.20,293.80L942.70,290.36L943.20,286.69L943.70,282.83L944.20,278.80L944.70,274.62L945.20,270.32L945.70,265.93L946.20,261.46L946.70,256.96L947.20,252.44L947.70,247.94L948.20,243.47L948.70,239.08L949.20,234.78L949.70,230.60L950.20,226.57L950.70,222.71L951.20,219.04L951.70,215.60" stroke="#3ee03e" stroke-width="0.7" fill="none" stroke-dasharray="3,0.8"/>
<path d="M720.2,254.7H952.1" stroke="#111" stroke-width="0.9"/>
<rect x="719.2" y="191.0" width="2.2" height="128.00" fill="#9a9a9a"/>
<text x="708.82" y="208.00" font-size="3.5" fill="#333" font-weight="normal" textLength="6.68" lengthAdjust="spacingAndGlyphs">200</text>
<text x="708.82" y="232.10" font-size="3.5" fill="#333" font-weight="normal" textLength="6.68" lengthAdjust="spacingAndGlyphs">100</text>
<text x="713.27" y="256.20" font-size="3.5" fill="#333" font-weight="normal" textLength="2.23" lengthAdjust="spacingAndGlyphs">0</text>
<text x="707.31" y="280.30" font-size="3.5" fill="#333" font-weight="normal" textLength="8.19" lengthAdjust="spacingAndGlyphs">-100</text>
<text x="707.31" y="304.40" font-size="3.5" fill="#333" font-weight="normal" textLength="8.19" lengthAdjust="spacingAndGlyphs">-200</text>
<text x="685.00" y="255.00" font-size="4.5" fill="#222" font-weight="bold" textLength="42.00" lengthAdjust="spacingAndGlyphs" transform="rotate(-90 706 255)">Circuit Current, A</text>
<text x="719.66" y="325.50" font-size="3.6" fill="#222" font-weight="normal" textLength="2.29" lengthAdjust="spacingAndGlyphs">0</text>
<text x="770.16" y="325.50" font-size="3.6" fill="#222" font-weight="normal" textLength="8.18" lengthAdjust="spacingAndGlyphs">0.02</text>
<text x="823.61" y="325.50" font-size="3.6" fill="#222" font-weight="normal" textLength="8.18" lengthAdjust="spacingAndGlyphs">0.04</text>
<text x="877.06" y="325.50" font-size="3.6" fill="#222" font-weight="normal" textLength="8.18" lengthAdjust="spacingAndGlyphs">0.06</text>
<text x="930.51" y="325.50" font-size="3.6" fill="#222" font-weight="normal" textLength="8.18" lengthAdjust="spacingAndGlyphs">0.08</text>
<text x="827.50" y="330.50" font-size="5" fill="#222" font-weight="bold" textLength="17.00" lengthAdjust="spacingAndGlyphs">Time, s</text>
<rect x="720" y="333.5" width="232" height="6.5" fill="#e6e6e6"/>
<path d="M797.5,337.2h3.5" stroke="#222" stroke-width="0.6"/>
<text x="802.00" y="338.50" font-size="3.4" fill="#444" font-weight="normal" textLength="16.50" lengthAdjust="spacingAndGlyphs">A1 [Case 1]</text>
<path d="M825,337.2h3.5" stroke="#f05050" stroke-width="0.6"/>
<text x="829.50" y="338.50" font-size="3.4" fill="#444" font-weight="normal" textLength="16.50" lengthAdjust="spacingAndGlyphs">B1 [Case 1]</text>
<path d="M852.9,337.2h3.5" stroke="#40d040" stroke-width="0.6"/>
<text x="857.40" y="338.50" font-size="3.4" fill="#444" font-weight="normal" textLength="16.50" lengthAdjust="spacingAndGlyphs">C1 [Case 1]</text>
<path d="M720.80,319.0v2 M747.52,319.0v2 M774.25,319.0v2 M800.97,319.0v2 M827.70,319.0v2 M854.42,319.0v2 M881.15,319.0v2 M907.88,319.0v2 M934.60,319.0v2" stroke="#999" stroke-width="0.5"/>
<rect x="770.8" y="267.4" width="168.6" height="48.6" fill="#fff" stroke="#222" stroke-width="1.1"/>
<text x="778.80" y="283.00" font-size="12.0" fill="#000" font-weight="bold" textLength="102.00" lengthAdjust="spacingAndGlyphs">Winding current</text>
<text x="778.80" y="296.40" font-size="12.0" fill="#000" font-weight="bold" textLength="150.40" lengthAdjust="spacingAndGlyphs">240Apk (@peak torque)</text>
<text x="778.80" y="309.80" font-size="12.0" fill="#000" font-weight="bold" textLength="116.20" lengthAdjust="spacingAndGlyphs">66.6Hz (1000rpm)</text>
<g transform="rotate(-40 916.2 48.7)">
<ellipse cx="916.2" cy="48.7" rx="31.5" ry="22" fill="#0d4fa6"/>
<ellipse cx="914.6" cy="46.6" rx="24.5" ry="14.8" fill="#fff"/>
<path d="M895,50 A21,11.7 0 0 1 935.3,44.57" stroke="#0d4fa6" stroke-width="3.0" fill="none"/>
</g>
<polygon points="959.5,13.6 911.2,46.0 917.8,46.3 879.9,80.7 929.9,46.6 923.0,46.6" fill="#0d4fa6" stroke="#fff" stroke-width="2.6" stroke-linejoin="miter"/>
<polygon points="959.5,13.6 911.2,46.0 917.8,46.3 879.9,80.7 929.9,46.6 923.0,46.6" fill="#0d4fa6"/>
<text x="958.5" y="49.3" font-size="19.6" fill="#6b6b6b" stroke="#6b6b6b" stroke-width="0.35" textLength="105.5" lengthAdjust="spacingAndGlyphs">电动新视界</text>
<text x="958.1" y="63.9" font-size="6.6" fill="#6b6b6b" font-weight="bold" textLength="106.5" lengthAdjust="spacingAndGlyphs">NEW ELECTRIC HORIZON</text>
<defs>
<linearGradient id="fA" x1="83" y1="0" x2="126.3" y2="0" gradientUnits="userSpaceOnUse"><stop offset="0" stop-color="#2a10ff"/><stop offset="0.08" stop-color="#0060ff"/><stop offset="0.14" stop-color="#00d8ff"/><stop offset="0.22" stop-color="#40ff40"/><stop offset="0.3" stop-color="#e8ff00"/><stop offset="0.38" stop-color="#ff9a00"/><stop offset="0.45" stop-color="#ff5a10"/><stop offset="0.85" stop-color="#ff5a10"/><stop offset="0.95" stop-color="#ff9000"/><stop offset="1" stop-color="#ffb000"/></linearGradient>
<linearGradient id="fB" x1="126.3" y1="0" x2="139.6" y2="0" gradientUnits="userSpaceOnUse"><stop offset="0" stop-color="#10ff50"/><stop offset="0.6" stop-color="#00ff90"/><stop offset="1" stop-color="#00e8e0"/></linearGradient>
<linearGradient id="fC" x1="139.6" y1="0" x2="150.5" y2="0" gradientUnits="userSpaceOnUse"><stop offset="0" stop-color="#00d8ff"/><stop offset="0.5" stop-color="#30c8ff"/><stop offset="1" stop-color="#00e0ff"/></linearGradient>
<linearGradient id="fD" x1="150.5" y1="0" x2="173" y2="0" gradientUnits="userSpaceOnUse"><stop offset="0" stop-color="#9414ff"/><stop offset="0.5" stop-color="#9414ff"/><stop offset="0.52" stop-color="#7010e0"/><stop offset="0.6" stop-color="#8a30ff"/><stop offset="0.8" stop-color="#6040ff"/><stop offset="1" stop-color="#4030ff"/></linearGradient>
<linearGradient id="fE" x1="172.6" y1="0" x2="224.7" y2="0" gradientUnits="userSpaceOnUse"><stop offset="0" stop-color="#4020ff"/><stop offset="0.07" stop-color="#0060ff"/><stop offset="0.12" stop-color="#00e0ff"/><stop offset="0.2" stop-color="#20ff60"/><stop offset="0.3" stop-color="#80ff00"/><stop offset="0.55" stop-color="#a0ff00"/><stop offset="0.68" stop-color="#90ff00"/><stop offset="0.71" stop-color="#30ff80"/><stop offset="0.75" stop-color="#00d0ff"/><stop offset="0.8" stop-color="#0040ff"/><stop offset="0.9" stop-color="#2020ff"/><stop offset="0.95" stop-color="#8010ff"/><stop offset="1" stop-color="#9010ff"/></linearGradient>
<linearGradient id="fF" x1="224.7" y1="0" x2="240" y2="0" gradientUnits="userSpaceOnUse"><stop offset="0" stop-color="#6020ff"/><stop offset="0.12" stop-color="#2060ff"/><stop offset="0.25" stop-color="#30ff40"/><stop offset="0.5" stop-color="#50ff20"/><stop offset="0.62" stop-color="#00d0ff"/><stop offset="0.75" stop-color="#0030ff"/><stop offset="1" stop-color="#5010ff"/></linearGradient>
<linearGradient id="fY" x1="83" y1="0" x2="122" y2="0" gradientUnits="userSpaceOnUse"><stop offset="0" stop-color="#3050ff"/><stop offset="0.1" stop-color="#00c0ff"/><stop offset="0.25" stop-color="#40ff40"/><stop offset="0.5" stop-color="#a0ff00"/><stop offset="0.75" stop-color="#30ff60"/><stop offset="0.92" stop-color="#00c0ff"/><stop offset="1" stop-color="#3040ff"/></linearGradient>
<linearGradient id="fR" x1="0" y1="170" x2="0" y2="210" gradientUnits="userSpaceOnUse"><stop offset="0" stop-color="#8a28ff"/><stop offset="1" stop-color="#7030ff"/></linearGradient>
</defs>
<path d="M83,310 L83,231 C85,216 95,198 122,177 L132.5,171.6 L143.4,164.5 L155.5,159 L169,154.5 L183.5,151.5 L198.2,149.6 L213,149.2 L227.8,149.6 L235.5,153 L240,156 L240,239 L225,279 L223.2,293.3 C210,293.5 200,293.8 194.3,294.2 C186,297 180,299 176.2,302.4 C170,307 166,310 164.4,313.2 L162,322.3 L151.8,321.5 L149,318 L127,316.6 Z" fill="#6a18e8"/>
<path d="M83,232 C85,216 95,198 123,177 L122.3,178.6 L113.75,188.75 L108.3,197.3 L101.25,207.5 L101.25,233 Z" fill="url(#fY)"/>
<polygon points="101.25,233 101.25,207.5 108.3,197.3 113.75,188.75 122.3,178.6 132.5,171.6 143.4,164.5 155.5,159 169,154.5 183.5,151.5 198.2,149.6 213,149.2 227.8,149.6 235.5,153 240,156 240,200 226,169.5 212,170.3 198.5,171.6 186,175 176,179.5 165,187 156.6,194 143.3,210.3 134,222 127,234" fill="#5a0cc0"/>
<path d="M104.1,210.4L110.8,200.6L116.2,192.1L124.6,182.1L134.4,175.0L144.9,167.8L156.6,162.1L169.8,157.3L183.8,154.1L198.2,152.0L212.9,151.5L227.6,151.8L235.1,154.8 M107.0,213.4L113.3,203.9L118.7,195.5L127.0,185.6L136.4,178.4L146.3,171.1L157.6,165.2L170.6,160.1L184.1,156.7L198.3,154.5L212.8,153.9L227.4,154.0L234.7,156.7 M109.8,216.3L115.9,207.2L121.2,198.8L129.3,189.2L138.3,181.7L147.8,174.3L158.7,168.3L171.3,162.8L184.3,159.3L198.3,156.9L212.7,156.2L227.2,156.2L234.3,158.5 M112.7,219.3L118.4,210.5L123.6,202.2L131.6,192.7L140.3,185.1L149.3,177.6L159.7,171.4L172.1,165.6L184.6,161.9L198.3,159.4L212.6,158.6L227.0,158.4L233.9,160.3 M115.6,222.2L120.9,213.8L126.1,205.6L134.0,196.2L142.2,188.5L150.7,180.9L160.8,174.6L172.9,168.4L184.9,164.6L198.4,161.8L212.4,160.9L226.8,160.7L233.6,162.2 M118.4,225.2L123.4,217.1L128.6,208.9L136.3,199.7L144.2,191.9L152.2,184.2L161.8,177.7L173.7,171.2L185.2,167.2L198.4,164.3L212.3,163.3L226.6,162.9L233.2,164.0 M121.3,228.1L126.0,220.4L131.1,212.3L138.6,203.3L146.1,195.2L153.7,187.4L162.9,180.8L174.4,173.9L185.4,169.8L198.4,166.7L212.2,165.6L226.4,165.1L232.8,165.8 M124.1,231.1L128.5,223.7L133.5,215.6L141.0,206.8L148.1,198.6L155.1,190.7L163.9,183.9L175.2,176.7L185.7,172.4L198.5,169.2L212.1,168.0L226.2,167.3L232.4,167.7" stroke="#22005a" stroke-width="0.8" fill="none"/>
<path d="M100.8,208.1L104.1,204.8L129.6,230.4L126.4,233.6Z M106.3,198.1L109.8,195.2L133.8,223.5L130.2,226.5Z M112.3,189.2L115.9,186.4L138.8,215.6L135.2,218.4Z M120.8,178.9L124.7,176.5L145.0,209.3L141.0,211.7Z M130.8,171.5L134.9,169.4L151.1,202.0L146.9,204.0Z M141.3,164.5L145.6,162.8L158.1,194.1L153.9,195.9Z M153.6,157.6L158.0,156.5L166.2,187.4L161.8,188.6Z M167.5,152.9L172.1,152.2L176.3,180.7L171.7,181.3Z M181.6,149.3L186.2,148.9L188.3,175.3L183.7,175.7Z M196.0,147.2L200.6,147.0L201.3,171.4L196.7,171.6Z M210.8,146.6L215.4,146.6L215.3,170.3L210.7,170.3Z M225.7,147.0L230.3,147.2L229.3,169.6L224.7,169.4Z" fill="#9414ff" stroke="#20005a" stroke-width="0.8"/>
<path d="M105.0,212.2L108.2,209.0 M108.1,215.3L111.3,212.1 M111.2,218.5L114.5,215.2 M114.3,221.6L117.6,218.3 M117.4,224.7L120.7,221.4 M120.5,227.8L123.8,224.5 M123.7,230.9L126.9,227.7 M110.1,202.6L113.6,199.7 M112.9,206.0L116.4,203.0 M115.8,209.4L119.3,206.4 M118.6,212.7L122.1,209.8 M121.4,216.1L125.0,213.1 M124.3,219.4L127.8,216.5 M127.1,222.8L130.6,219.8 M130.0,226.2L133.5,223.2 M115.9,193.9L119.5,191.0 M118.6,197.3L122.2,194.5 M121.3,200.8L125.0,198.0 M124.1,204.3L127.7,201.4 M126.8,207.7L130.4,204.9 M129.5,211.2L133.1,208.3 M132.2,214.6L135.8,211.8 M134.9,218.1L138.6,215.3 M123.9,184.0L127.8,181.5 M126.2,187.7L130.1,185.3 M128.5,191.4L132.4,189.0 M130.8,195.2L134.7,192.8 M133.1,198.9L137.0,196.5 M135.4,202.7L139.4,200.2 M137.8,206.4L141.7,204.0 M140.1,210.1L144.0,207.7 M133.4,176.8L137.5,174.7 M135.4,180.7L139.5,178.7 M137.3,184.6L141.4,182.6 M139.3,188.6L143.4,186.5 M141.2,192.5L145.3,190.5 M143.2,196.5L147.3,194.4 M145.1,200.4L149.3,198.4 M143.5,169.9L147.8,168.2 M145.1,174.0L149.4,172.3 M146.8,178.1L151.0,176.4 M148.4,182.2L152.7,180.5 M150.0,186.3L154.3,184.6 M151.7,190.4L155.9,188.7 M153.3,194.5L157.6,192.7 M155.1,163.3L159.5,162.2 M156.2,167.6L160.7,166.4 M157.4,171.8L161.8,170.7 M158.5,176.1L162.9,174.9 M159.6,180.4L164.0,179.2 M160.7,184.6L165.2,183.4 M168.4,158.7L172.9,158.0 M169.0,163.0L173.6,162.4 M169.7,167.4L174.2,166.7 M170.3,171.7L174.9,171.1 M170.9,176.1L175.5,175.4 M171.6,180.5L176.1,179.8 M182.1,155.2L186.6,154.8 M182.4,159.6L187.0,159.2 M182.8,163.9L187.3,163.6 M183.1,168.3L187.7,168.0 M183.5,172.7L188.1,172.3 M196.1,153.1L200.7,152.9 M196.3,157.5L200.9,157.3 M196.4,161.9L201.0,161.7 M196.5,166.3L201.1,166.1 M196.7,170.7L201.3,170.5 M210.8,152.5L215.4,152.5 M210.8,156.9L215.4,156.9 M210.7,161.3L215.3,161.3 M210.7,165.7L215.3,165.7 M210.7,170.1L215.3,170.1 M225.4,152.9L230.0,153.1 M225.2,157.3L229.8,157.5 M225.0,161.7L229.6,161.9 M224.8,166.1L229.4,166.3" stroke="#20005a" stroke-width="0.8" fill="none"/>
<clipPath id="tb"><polygon points="101.25,233 101.25,207.5 108.3,197.3 113.75,188.75 122.3,178.6 132,200 137,217 128,232"/></clipPath>
<g clip-path="url(#tb)"><rect x="100" y="175" width="45" height="62" fill="#8a18f8"/><path d="M99,183.5L150,168.2 M99,189.5L150,174.2 M99,195.5L150,180.2 M99,201.5L150,186.2 M99,207.5L150,192.2 M99,213.5L150,198.2 M99,219.5L150,204.2 M99,225.5L150,210.2 M99,231.5L150,216.2 M99,237.5L150,222.2 M99,243.5L150,228.2 M99,249.5L150,234.2 M101.0,170L102.5,240 M107.2,170L108.8,240 M113.5,170L115.0,240 M119.8,170L121.2,240 M126.0,170L127.5,240 M132.2,170L133.8,240 M138.5,170L140.0,240 M144.8,170L146.2,240" stroke="#240060" stroke-width="1.2" fill="none"/></g>
<path d="M226,169.5 L212,170.3 L198.5,171.6 L186,175 L176,179.5 L165,187 L156.6,194 L143.3,210.3 L134,222 L127,234" stroke="#2a0060" stroke-width="0.8" fill="none"/>
<path d="M235.5,153 L240,156 L240,200 L235.5,200 Z" fill="#4a20ff"/>
<path d="M143.3,210.3 C150,200 162,188 174.4,180.7 C185,175.5 205,171 224.7,169.6 L224.7,185.2 C210,186 200,187.5 196.6,188.9 C188,192 182,194 177.4,197 C170,202 166,206 162.6,210.3 Z" fill="url(#fR)" stroke="#3a0080" stroke-width="0.9"/>
<path d="M162.6,210.3 C170,202 185,193 196.6,188.9 C205,186.5 215,185.5 224.7,185.2 L224.7,214.8 L220.3,214.8 C212,215.5 200,217 189.2,222.2 C182,226 177,231 174.4,235.5 L164,229.6 Z" fill="#9414ff" stroke="#4a0090" stroke-width="0.6"/>
<path d="M177.5,201.0V228.0 M182.5,199.5V226.4 M187.5,198.0V224.8 M192.5,196.5V223.2 M197.5,195.0V221.5 M202.5,193.5V220.6 M207.5,192.0V219.7 M212.5,190.5V218.8 M217.5,189.0V217.9" stroke="#300078" stroke-width="2.0" fill="none"/>
<path d="M168,214 C178,203 195,195 222,192" stroke="#4a0090" stroke-width="0.6" fill="none"/>
<path d="M172,232 C180,223 195,216 222,212" stroke="#4a0090" stroke-width="0.6" fill="none"/>
<path d="M137,211 L162.6,210.3 L164,230.6 L139.6,232 Z" fill="#9414ff" stroke="#4a0090" stroke-width="0.6"/>
<rect x="141" y="216.5" width="5" height="2.5" fill="#2040ff"/>
<path d="M127,234 L134,222 L137,212 L139.5,213 L139.6,232 Z" fill="#3050ff"/>
<path d="M127.5,231 L131,224 L136,216 L138,220 L134,229 Z" fill="#00e0a0"/><path d="M130,229 L136,218 L137.5,223 Z" fill="#e0e000"/>
<path d="M83,231 L126.3,236 L126.3,316.6 L83,310 Z" fill="url(#fA)" stroke="#333" stroke-width="0.4"/>
<defs><clipPath id="cA"><path d="M83,231 L126.3,236 L126.3,316.6 L83,310 Z"/></clipPath><filter id="bl2" x="-20%" y="-5%" width="140%" height="110%"><feGaussianBlur stdDeviation="1.0"/></filter></defs>
<g clip-path="url(#cA)"><path d="M101,228 L99,238 L102,248 L98,258 L101,268 L97,278 L100,288 L98,298 L101,308 L99,320 L121,320 L123,308 L120,298 L124,288 L121,278 L123,268 L120,258 L123,248 L121,238 L123,228 Z" fill="#ff5010" filter="url(#bl2)"/></g>
<path d="M126.3,232 L139.6,232 L139.6,318.5 L126.3,316.6 Z" fill="url(#fB)" stroke="#333" stroke-width="0.5"/>
<path d="M126.3,232 L139.6,232 L150.5,233 L150.5,239 L139.6,239.5 L126.3,236.5 Z" fill="#20d8ff"/>
<path d="M139.6,239.5 L150.5,238 L150.5,318 L139.6,318.5 Z" fill="url(#fC)"/>
<path d="M150.5,231 L164,230.6 L174.4,235.5 L173,302.5 C168,306 165.5,309 164.4,313.2 L161.7,322.3 L151.8,321.5 Z" fill="url(#fD)" stroke="#5010a0" stroke-width="0.5"/>
<path d="M174.4,235.5 C182,226 200,217 220.3,214.8 L224.7,214.8 L224.7,293.3 L223.2,293.3 C210,293.5 200,293.8 194.3,294.2 C186,297 180,299 176.2,302.4 L173,302.5 Z" fill="url(#fE)"/>
<path d="M225.5,172 L235.5,153.5 L240,156.5 L240,239 L225,279 L223.2,293.3 L224.7,293.3 Z" fill="url(#fF)" stroke="#3a1080" stroke-width="0.4"/>
<defs><linearGradient id="fFt" x1="0" y1="150" x2="0" y2="200" gradientUnits="userSpaceOnUse"><stop offset="0" stop-color="#6a18ff" stop-opacity="1"/><stop offset="0.55" stop-color="#6a18ff" stop-opacity="0.7"/><stop offset="1" stop-color="#6a18ff" stop-opacity="0"/></linearGradient></defs>
<path d="M225.5,172 L235.5,153.5 L240,156.5 L240,239 L225,279 L225.5,279 Z" fill="url(#fFt)"/>
<path d="M235.5,153.5 L225.5,172 L224.7,214.8" stroke="#2a0070" stroke-width="0.8" fill="none"/>
<rect x="207" y="252.5" width="9" height="4" fill="#ff1010"/>
<defs>
<linearGradient id="sM" x1="0" y1="371" x2="0" y2="535" gradientUnits="userSpaceOnUse"><stop offset="0.0" stop-color="#4a18ff"/><stop offset="0.0152" stop-color="#0018ff"/><stop offset="0.0427" stop-color="#0058ff"/><stop offset="0.061" stop-color="#00d0ff"/><stop offset="0.0823" stop-color="#00ff70"/><stop offset="0.1098" stop-color="#50ff00"/><stop offset="0.1311" stop-color="#c8ff00"/><stop offset="0.1524" stop-color="#ffe800"/><stop offset="0.1768" stop-color="#ffb000"/><stop offset="0.1951" stop-color="#ff6a10"/><stop offset="0.25" stop-color="#ff5a10"/><stop offset="0.2744" stop-color="#ff8000"/><stop offset="0.2988" stop-color="#ffbc00"/><stop offset="0.3232" stop-color="#ffe800"/><stop offset="0.3354" stop-color="#fff000"/><stop offset="0.336" stop-color="#111111"/><stop offset="0.3433" stop-color="#111111"/><stop offset="0.3439" stop-color="#00d8ff"/><stop offset="0.372" stop-color="#00c0ff"/><stop offset="0.4085" stop-color="#00a0ff"/><stop offset="0.4329" stop-color="#0080ff"/><stop offset="0.447" stop-color="#0030f0"/><stop offset="0.4549" stop-color="#1010d0"/><stop offset="0.4634" stop-color="#4020ff"/><stop offset="0.4878" stop-color="#6a20ff"/><stop offset="0.5043" stop-color="#2020e0"/><stop offset="0.5171" stop-color="#1020d8"/><stop offset="0.5262" stop-color="#3040ff"/><stop offset="0.5299" stop-color="#9a08ff"/><stop offset="0.6061" stop-color="#9a08ff"/><stop offset="0.611" stop-color="#3010c0"/><stop offset="0.6195" stop-color="#1030ff"/><stop offset="0.6232" stop-color="#20ff50"/><stop offset="0.6524" stop-color="#30ff20"/><stop offset="0.689" stop-color="#50ff00"/><stop offset="0.7256" stop-color="#90ff00"/><stop offset="0.75" stop-color="#70ff00"/><stop offset="0.8598" stop-color="#50ff00"/><stop offset="0.8841" stop-color="#30ff30"/><stop offset="0.9055" stop-color="#00ffa0"/><stop offset="0.9177" stop-color="#00d8ff"/><stop offset="0.9329" stop-color="#0050ff"/><stop offset="0.9665" stop-color="#0028ff"/><stop offset="0.9878" stop-color="#3010ff"/><stop offset="1.0" stop-color="#8010ff"/></linearGradient>
</defs>
<rect x="62" y="371" width="141.7" height="164" fill="url(#sM)"/>
<defs><filter id="bl1" x="-10%" y="-30%" width="120%" height="160%"><feGaussianBlur stdDeviation="1.1"/></filter><clipPath id="tc2"><rect x="62" y="371" width="141.7" height="55"/></clipPath><clipPath id="tc3"><rect x="62" y="427.4" width="141.7" height="30"/></clipPath></defs>
<g clip-path="url(#tc2)"><path d="M58,396 L66,395 L72,394 L80.3,401 L86,393.5 L95,392 L105,392.5 L115,395 L122,397.5 L127.6,402 L133,397 L141,395.5 L147.9,401 L154,396 L163,396.5 L170.9,401 L178,397 L190,395.5 L200,396 L208,397 L208,409 L58,409 Z" fill="#ff6a10" filter="url(#bl1)"/><path d="M93,386 L101.9,374 L111,386 Z" fill="#00d8f0" filter="url(#bl1)" opacity="0.7"/></g>
<g clip-path="url(#tc3)"><path d="M58,427 H208 V438 C204,444 200,444.5 190,444.3 H75 C66,444.5 64,444 58,438 Z" fill="#00b8ff" filter="url(#bl1)" opacity="0.85"/></g>
<path d="M62,426.5H203.7" stroke="#111" stroke-width="1"/>
<rect x="62" y="371" width="141.7" height="164" fill="none" stroke="#333" stroke-width="0.4"/>
<rect x="116.1" y="524" width="9.5" height="3.8" fill="#ff1010"/>
<path d="M203.7,393 H241 V443 H256.8 V478 H266 V535 H203.7 Z" fill="#8a16f4"/>
<path d="M204,395.0H241 M204,398.0H241 M204,401.0H241 M204,404.0H241 M204,407.0H241 M204,410.0H241 M204,413.0H241 M204,416.0H241 M204,419.0H241 M204,422.0H241 M204,425.0H241 M204,428.0H241 M204,431.0H241 M204,434.0H241 M204,437.0H241 M204,440.0H241 M212,393V441 M219,393V441 M226,393V441 M233,393V441" stroke="#200060" stroke-width="1.1" fill="none"/>
<path d="M204,447.0 C210,443.0 216,440.0 222,439.0 M204,451.0 C210,447.0 216,444.0 222,443.0 M204,455.0 C210,451.0 216,448.0 222,447.0 M204,459.0 C210,455.0 216,452.0 222,451.0 M204,463.0 C210,459.0 216,456.0 222,455.0 M204,467.0 C210,463.0 216,460.0 222,459.0 M204,471.0 C210,467.0 216,464.0 222,463.0 M204,475.0 C210,471.0 216,468.0 222,467.0 M204,479.0 C210,475.0 216,472.0 222,471.0 M204,483.0 C210,479.0 216,476.0 222,475.0 M204,487.0 C210,483.0 216,480.0 222,479.0 M204,491.0 C210,487.0 216,484.0 222,483.0 M204,495.0 C210,491.0 216,488.0 222,487.0 M204,499.0 C210,495.0 216,492.0 222,491.0 M204,503.0 C210,499.0 216,496.0 222,495.0 M204,507.0 C210,503.0 216,500.0 222,499.0 M204,511.0 C210,507.0 216,504.0 222,503.0 M204,515.0 C210,511.0 216,508.0 222,507.0 M204,519.0 C210,515.0 216,512.0 222,511.0 M204,523.0 C210,519.0 216,516.0 222,515.0 M204,527.0 C210,523.0 216,520.0 222,519.0 M204,531.0 C210,527.0 216,524.0 222,523.0 M204,535.0 C210,531.0 216,528.0 222,527.0" stroke="#200060" stroke-width="1.2" fill="none"/>
<path d="M204,446 C210,443 214,441 218,441 M204,458 C210,452 214,449 218,448" stroke="#2030ff" stroke-width="0.9" fill="none"/>
<rect x="218.5" y="443" width="38.3" height="35" fill="#8a16f4" stroke="#3a0090" stroke-width="0.7"/>
<rect x="222" y="447.5" width="30.5" height="25" fill="#7010d0" stroke="#3a0090" stroke-width="0.5"/>
<rect x="224.5" y="450.5" width="25.5" height="19.6" fill="#9a20ff" stroke="#2040ff" stroke-width="1.1"/>
<path d="M214,535 V478.7 H221.8 V473 H256.8 V478.7 H266.5 V535 Z" fill="#8a16f4" stroke="#3a0090" stroke-width="0.6"/>
<path d="M228,489.0H262 M228,494.6H262 M228,500.2H262 M228,505.8H262 M228,511.4H262 M228,517.0H262 M228,522.6H262 M228,528.2H262 M228,533.8H262 M221,484V535 M228,484V535 M262,480V535" stroke="#2a0070" stroke-width="0.9" fill="none"/>
<rect x="243" y="486.5" width="6.5" height="3.2" fill="#2050ff"/>
<path d="M204,500 h7 v4 h-7z M204,517 h7 v5 h-7z" fill="#fff"/>
<text x="282.50" y="292.60" font-size="5" fill="#000" font-weight="normal" textLength="53.00" lengthAdjust="spacingAndGlyphs" stroke="#000" stroke-width="0.08">Magnetic Flux Density</text>
<text x="291.00" y="301.10" font-size="5" fill="#000" font-weight="normal" textLength="36.00" lengthAdjust="spacingAndGlyphs" stroke="#000" stroke-width="0.08">Vector Plot : T</text>
<defs>
<linearGradient id="lg" x1="0" y1="310.8" x2="0" y2="433" gradientUnits="userSpaceOnUse"><stop offset="0" stop-color="#ff1010"/><stop offset="0.2" stop-color="#ff9000"/><stop offset="0.3" stop-color="#ffff00"/><stop offset="0.5" stop-color="#20ff20"/><stop offset="0.65" stop-color="#00ffd0"/><stop offset="0.75" stop-color="#00a0ff"/><stop offset="0.88" stop-color="#0010ff"/><stop offset="1" stop-color="#a000ff"/></linearGradient>
</defs>
<rect x="302" y="310.8" width="7" height="122.2" fill="url(#lg)"/>
<text x="316.80" y="312.60" font-size="4.6" fill="#000" font-weight="normal" textLength="16.20" lengthAdjust="spacingAndGlyphs" stroke="#000" stroke-width="0.1">2.0000</text>
<text x="316.80" y="318.68" font-size="4.6" fill="#000" font-weight="normal" textLength="16.20" lengthAdjust="spacingAndGlyphs" stroke="#000" stroke-width="0.1">1.9000</text>
<text x="316.80" y="324.76" font-size="4.6" fill="#000" font-weight="normal" textLength="16.20" lengthAdjust="spacingAndGlyphs" stroke="#000" stroke-width="0.1">1.8000</text>
<text x="316.80" y="330.84" font-size="4.6" fill="#000" font-weight="normal" textLength="16.20" lengthAdjust="spacingAndGlyphs" stroke="#000" stroke-width="0.1">1.7000</text>
<text x="316.80" y="336.92" font-size="4.6" fill="#000" font-weight="normal" textLength="16.20" lengthAdjust="spacingAndGlyphs" stroke="#000" stroke-width="0.1">1.6000</text>
<text x="316.80" y="343.00" font-size="4.6" fill="#000" font-weight="normal" textLength="16.20" lengthAdjust="spacingAndGlyphs" stroke="#000" stroke-width="0.1">1.5000</text>
<text x="316.80" y="349.08" font-size="4.6" fill="#000" font-weight="normal" textLength="16.20" lengthAdjust="spacingAndGlyphs" stroke="#000" stroke-width="0.1">1.4000</text>
<text x="316.80" y="355.16" font-size="4.6" fill="#000" font-weight="normal" textLength="16.20" lengthAdjust="spacingAndGlyphs" stroke="#000" stroke-width="0.1">1.3000</text>
<text x="316.80" y="361.24" font-size="4.6" fill="#000" font-weight="normal" textLength="16.20" lengthAdjust="spacingAndGlyphs" stroke="#000" stroke-width="0.1">1.2000</text>
<text x="316.80" y="367.32" font-size="4.6" fill="#000" font-weight="normal" textLength="16.20" lengthAdjust="spacingAndGlyphs" stroke="#000" stroke-width="0.1">1.1000</text>
<text x="316.80" y="373.40" font-size="4.6" fill="#000" font-weight="normal" textLength="16.20" lengthAdjust="spacingAndGlyphs" stroke="#000" stroke-width="0.1">1.0000</text>
<text x="316.80" y="379.48" font-size="4.6" fill="#000" font-weight="normal" textLength="16.20" lengthAdjust="spacingAndGlyphs" stroke="#000" stroke-width="0.1">0.9000</text>
<text x="316.80" y="385.56" font-size="4.6" fill="#000" font-weight="normal" textLength="16.20" lengthAdjust="spacingAndGlyphs" stroke="#000" stroke-width="0.1">0.8000</text>
<text x="316.80" y="391.64" font-size="4.6" fill="#000" font-weight="normal" textLength="16.20" lengthAdjust="spacingAndGlyphs" stroke="#000" stroke-width="0.1">0.7000</text>
<text x="316.80" y="397.72" font-size="4.6" fill="#000" font-weight="normal" textLength="16.20" lengthAdjust="spacingAndGlyphs" stroke="#000" stroke-width="0.1">0.6000</text>
<text x="316.80" y="403.80" font-size="4.6" fill="#000" font-weight="normal" textLength="16.20" lengthAdjust="spacingAndGlyphs" stroke="#000" stroke-width="0.1">0.5000</text>
<text x="316.80" y="409.88" font-size="4.6" fill="#000" font-weight="normal" textLength="16.20" lengthAdjust="spacingAndGlyphs" stroke="#000" stroke-width="0.1">0.4000</text>
<text x="316.80" y="415.96" font-size="4.6" fill="#000" font-weight="normal" textLength="16.20" lengthAdjust="spacingAndGlyphs" stroke="#000" stroke-width="0.1">0.3000</text>
<text x="316.80" y="422.04" font-size="4.6" fill="#000" font-weight="normal" textLength="16.20" lengthAdjust="spacingAndGlyphs" stroke="#000" stroke-width="0.1">0.2000</text>
<text x="316.80" y="428.12" font-size="4.6" fill="#000" font-weight="normal" textLength="16.20" lengthAdjust="spacingAndGlyphs" stroke="#000" stroke-width="0.1">0.1000</text>
<text x="316.80" y="434.20" font-size="4.6" fill="#000" font-weight="normal" textLength="16.20" lengthAdjust="spacingAndGlyphs" stroke="#000" stroke-width="0.1">0.0000</text>
<text x="279.50" y="145.50" font-size="13.3" fill="#000" font-weight="normal" textLength="681.00" lengthAdjust="spacingAndGlyphs">Electromagnetic dog clutch (emDOC by HOERBIGER) 12V (168 turns) @1.614Ohm (180°C) with EM</text>
<text x="279.50" y="161.75" font-size="13.3" fill="#000" font-weight="normal" textLength="159.20" lengthAdjust="spacingAndGlyphs">Booster Stator @180°C</text>
<text x="397.5" y="567.3" font-size="11" fill="#000" text-anchor="start" font-weight="normal" textLength="374" lengthAdjust="spacingAndGlyphs" >* The emDOC stator force direction is opposite of the sleeve force</text>
</svg></body></html>
